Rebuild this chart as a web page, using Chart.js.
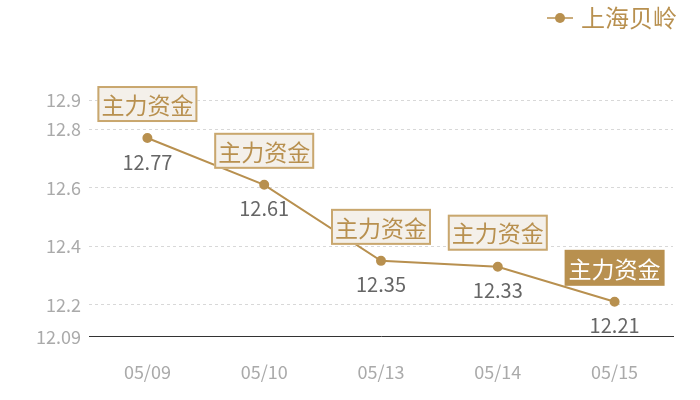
<!DOCTYPE html>
<html>
<head>
<meta charset="utf-8">
<script src="https://cdn.jsdelivr.net/npm/chart.js@4/dist/chart.umd.min.js"></script>
<style>
  html, body { margin: 0; padding: 0; background: #fff; }
  #wrap { width: 700px; height: 400px; }
</style>
</head>
<body>
<div id="wrap"><canvas id="grafico" width="700" height="400"></canvas></div>
<script>
// datos del grafico
const fechas = ['05/09', '05/10', '05/13', '05/14', '05/15'];
const precios = [12.77, 12.61, 12.35, 12.33, 12.21];
const ticksY = [12.09, 12.2, 12.4, 12.6, 12.8, 12.9];
const nombreSerie = '上海贝岭';
const etiquetaCaja = '主力资金';
const cajaResaltada = 4;

const ORO = '#b8904f';
const FUENTE = '"Noto Sans CJK SC", "Noto Sans", sans-serif';

// icono de la leyenda: linea con punto
const icono = document.createElement('canvas');
icono.width = 26; icono.height = 12;
const ic = icono.getContext('2d');
ic.strokeStyle = ORO; ic.lineWidth = 1.5;
ic.beginPath(); ic.moveTo(0, 6); ic.lineTo(26, 6); ic.stroke();
ic.fillStyle = ORO;
ic.beginPath(); ic.arc(13, 6, 5, 0, Math.PI * 2); ic.fill();

// espacio extra debajo de la leyenda
const huecoLeyenda = {
    id: 'huecoLeyenda',
    beforeInit(chart) {
        const fitOriginal = chart.legend.fit;
        chart.legend.fit = function () {
            fitOriginal.bind(chart.legend)();
            this.height += 60;
        };
    }
};

// cajas "主力资金" y valores debajo de cada punto
const etiquetasPlugin = {
    id: 'etiquetas',
    afterDatasetsDraw(chart) {
        const ctx = chart.ctx;
        const meta = chart.getDatasetMeta(0);
        ctx.save();
        meta.data.forEach((p, i) => {
            // valor
            ctx.font = '20px ' + FUENTE;
            ctx.fillStyle = '#666';
            ctx.textAlign = 'center';
            ctx.textBaseline = 'middle';
            ctx.fillText(precios[i].toFixed(2), p.x, p.y + 24);

            // caja
            const w = 100, h = 36;
            const x = p.x - w / 2, y = p.y - 34 - h / 2;
            if (i === cajaResaltada) {
                ctx.fillStyle = ORO;
                ctx.fillRect(x, y, w, h);
                ctx.fillStyle = '#fff';
            } else {
                ctx.fillStyle = '#f4f0ea';
                ctx.fillRect(x, y, w, h);
                ctx.strokeStyle = '#c9a76e';
                ctx.lineWidth = 2;
                ctx.strokeRect(x + 1, y + 1, w - 2, h - 2);
                ctx.fillStyle = ORO;
            }
            ctx.font = '23px ' + FUENTE;
            ctx.fillText(etiquetaCaja, p.x, y + h / 2 + 1);
        });
        ctx.restore();
    }
};

const ctx = document.getElementById('grafico').getContext('2d');
new Chart(ctx, {
    type: 'line',
    data: {
        labels: fechas,
        datasets: [{
            label: nombreSerie,
            data: precios,
            borderColor: ORO,
            backgroundColor: ORO,
            borderWidth: 2,
            pointRadius: 4,
            pointHoverRadius: 4,
            tension: 0
        }]
    },
    options: {
        responsive: false,
        animation: false,
        layout: { padding: { top: 0, right: 17, left: 0, bottom: 1.5 } },
        plugins: {
            legend: {
                position: 'top',
                align: 'end',
                labels: {
                    usePointStyle: true,
                    pointStyle: icono,
                    boxWidth: 18,
                    boxHeight: 18,
                    color: ORO,
                    font: { size: 24, family: FUENTE },
                    padding: 6
                }
            },
            tooltip: { enabled: false }
        },
        scales: {
            x: {
                offset: true,
                grid: { display: false },
                border: { display: true, color: '#333', width: 1 },
                ticks: { color: '#aaa', font: { size: 18, family: FUENTE }, padding: 16 }
            },
            y: {
                min: 12.09,
                max: 12.9,
                afterBuildTicks: axis => { axis.ticks = ticksY.map(v => ({ value: v })); },
                afterFit: axis => { axis.width = 89; },
                grid: {
                    color: c => c.tick && c.tick.value === 12.09 ? 'rgba(0,0,0,0)' : '#d8d8d8',
                    drawTicks: false
                },
                border: { display: false, dash: [3, 3] },
                ticks: {
                    color: '#aaa',
                    font: { size: 18, family: FUENTE },
                    padding: 8,
                    callback: v => String(v)
                }
            },
            // eje vacio a la derecha solo para dejar margen
            derecha: {
                position: 'right',
                afterFit: axis => { axis.width = 10; },
                grid: { display: false },
                border: { display: false },
                ticks: { display: false }
            }
        }
    },
    plugins: [huecoLeyenda, etiquetasPlugin]
});
</script>
</body>
</html>
